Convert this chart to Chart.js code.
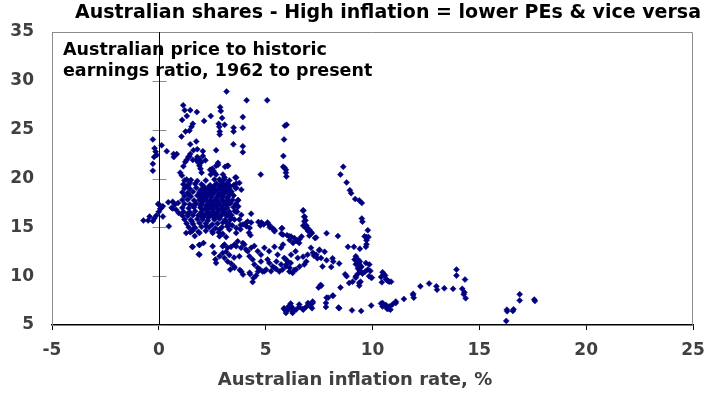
<!DOCTYPE html>
<html>
<head>
<meta charset="utf-8">
<title>Australian shares - PE vs inflation</title>
<script src="https://cdn.jsdelivr.net/npm/chart.js"></script>
<style>
  html, body { margin: 0; padding: 0; background: #fff; }
  #wrap { width: 716px; height: 393px; }
</style>
</head>
<body>
<div id="wrap"><canvas id="peChart" width="716" height="393"></canvas></div>
<script>
const chartTitle = "Australian shares - High inflation = lower PEs & vice versa";
const noteLines = ["Australian price to historic", "earnings ratio, 1962 to present"];
const xAxisTitle = "Australian inflation rate, %";
const xTicks = [-5, 0, 5, 10, 15, 20, 25];
const yTicks = [5, 10, 15, 20, 25, 30, 35];

// [inflation %, PE] pairs, grouped by area of the scatter
const highPE = [
  [3.17,28.9],[4.11,28.0],[5.07,28.0],[1.14,27.5],[1.21,27.0],[1.47,27.0],[1.78,26.8],[2.87,27.3],[2.9,26.9],
  [2.43,26.4],[2.96,26.2],[3.93,26.3],[1.09,26.0],[1.31,26.4],[2.12,25.9],[1.59,25.6],[1.53,25.3],[1.43,24.9],
  [1.25,24.8],[1.06,24.3],[2.8,25.6],[2.83,25.3],[2.85,24.8],[2.85,24.5],[3.08,25.5],[3.5,25.2],[3.5,24.8],
  [3.93,25.2],[5.98,25.5],[5.9,25.4],[5.86,24.0],[5.83,22.3],[5.82,21.2],[5.88,21.1],[5.95,20.9],[5.95,20.6],
  [5.97,20.2],[8.63,21.2],[8.5,20.4],[8.79,19.6],[8.94,18.8],[9.0,18.5],[9.19,17.9],[9.38,17.76],[9.5,17.5],
  [4.77,20.4],[3.58,20.1],[3.62,19.5],[-0.28,24.0],[-0.2,23.1],[-0.15,22.75],[-0.1,22.4],[-0.22,22.2],
  [0.13,23.4],[0.37,22.8],[0.69,22.5],[0.84,22.5],[0.7,22.2],[-0.28,21.5],[-0.28,20.8],[1.75,23.8],[1.47,23.5],
  [2.68,22.9],[3.49,23.5],[3.93,23.3],[3.93,22.7],[1.62,22.9],[1.8,23.0],[1.47,22.5],[1.38,22.2],[1.3,21.9],
  [1.24,21.7],[1.15,21.25],[1.0,20.6],[1.08,20.3],[1.8,22.2],[1.75,21.9],[1.9,22.0],[1.85,21.6],[1.9,21.3],
  [1.95,21.0],[2.0,20.6],[2.5,21.0],[2.55,20.8],[2.6,20.6],[2.68,21.3],[2.77,21.4],[3.1,21.2],[3.0,20.4],
  [3.05,19.9],[3.0,19.4],[1.3,19.9],[1.45,19.6],[1.3,19.2],[2.06,22.8],[2.06,22.3],[2.0,21.7],[1.59,21.9],
  [1.43,22.25],[2.77,21.6],[3.24,21.3],[2.52,20.8],[2.68,20.4],[2.84,19.9],[3.08,20.1],[3.62,20.1],[3.77,19.55],
  [3.62,19.06],[3.86,18.86],[2.4,20.9],[2.43,20.4],[3.21,21.3],[2.18,21.86],[3.18,19.5],[3.34,19.2]
];

const nearZero = [
  [0,17.35],[0.07,16.9],[0,16.6],[-0.12,16.2],[0.19,16.1],[-0.22,15.9],[-0.28,15.65],[-0.5,15.7],[-0.72,15.7],
  [-0.43,16.1],[0.09,16.94],[-0.03,17.4],[0.19,17.15],[0.47,15.1],[0.44,17.56],[0.65,17.63],[0.75,17.35],
  [0.65,16.94],[0.81,16.8],[0.93,16.47],[0.6,17.0],[0.9,17.5]
];

const coreCluster = [
  [1.2,19.8],[1.5,19.85],[1.8,19.75],[2.2,19.8],[2.6,19.9],[2.9,19.7],[3.3,19.8],
  [1.15,19.4],[1.4,19.35],[1.7,19.45],[2.0,19.4],[2.4,19.3],[2.7,19.45],[3.0,19.35],[3.25,19.4],[3.5,19.3],
  [1.2,19.0],[1.45,18.95],[1.75,19.05],[2.05,18.9],[2.3,19.0],[2.55,19.05],[2.8,18.95],[3.05,19.0],[3.3,18.9],[3.6,19.0],
  [1.1,18.6],[1.35,18.55],[1.6,18.65],[1.9,18.6],[2.15,18.5],[2.4,18.6],[2.65,18.7],[2.9,18.55],[3.15,18.6],[3.4,18.65],
  [1.2,18.2],[1.5,18.15],[1.8,18.25],[2.0,18.1],[2.25,18.2],[2.5,18.3],[2.75,18.15],[3.0,18.2],[3.25,18.1],[3.5,18.25],
  [1.1,17.8],[1.35,17.85],[1.65,17.75],[1.9,17.8],[2.15,17.9],[2.4,17.75],[2.7,17.8],[2.95,17.85],[3.2,17.7],[3.45,17.8],[3.7,17.75],
  [1.2,17.4],[1.45,17.35],[1.75,17.45],[2.0,17.4],[2.3,17.3],[2.55,17.45],[2.8,17.4],[3.1,17.35],[3.35,17.45],[3.6,17.4],
  [1.1,17.0],[1.4,16.95],[1.65,17.05],[1.95,17.0],[2.2,16.9],[2.45,17.0],[2.7,17.1],[2.95,16.95],[3.2,17.0],[3.5,17.05],
  [1.15,16.6],[1.45,16.55],[1.7,16.65],[2.0,16.6],[2.3,16.5],[2.55,16.6],[2.8,16.7],[3.05,16.55],[3.3,16.6],[3.55,16.65],
  [1.1,16.2],[1.35,16.15],[1.6,16.25],[1.85,16.2],[2.1,16.1],[2.4,16.2],[2.65,16.3],[2.9,16.15],[3.15,16.2],[3.4,16.25],
  [1.2,15.8],[1.5,15.75],[1.8,15.85],[2.05,15.8],[2.3,15.7],[2.6,15.8],[2.85,15.9],[3.1,15.75],[3.35,15.8],
  [1.3,15.4],[1.6,15.35],[1.9,15.45],[2.2,15.4],[2.5,15.3],[2.75,15.4],[3.0,15.5],[3.3,15.35],
  [1.4,15.0],[1.7,14.95],[2.0,15.05],[2.35,15.0],[2.65,14.9],[2.95,15.0],[3.2,15.1],
  [1.55,14.6],[1.85,14.55],[2.2,14.65],[2.5,14.6],[2.8,14.5],
  [3.71,17.8],[3.71,17.15],[3.62,16.6],[3.86,16.27],[3.77,15.8],[4.08,15.45],[3.83,15.25],[3.69,17.1],[3.66,16.6],
  [2.1,19.2],[2.35,19.15],[2.6,19.25],[2.85,19.2],[3.1,19.15],
  [1.95,18.8],[2.2,18.8],[2.45,18.85],[2.7,18.8],[2.95,18.8],[3.2,18.85],
  [2.05,18.4],[2.3,18.4],[2.55,18.45],[2.8,18.4],[3.05,18.45],[3.3,18.4],
  [1.95,18.0],[2.2,18.0],[2.45,18.05],[2.7,18.0],[2.95,18.05],[3.2,18.0],
  [2.05,17.6],[2.3,17.6],[2.55,17.65],[2.8,17.6],[3.05,17.6],[3.3,17.65],
  [1.95,17.2],[2.2,17.2],[2.45,17.25],[2.7,17.2],[2.95,17.2],[3.2,17.25],
  [2.05,16.8],[2.3,16.8],[2.55,16.85],[2.8,16.8],[3.05,16.8],
  [1.95,16.4],[2.2,16.4],[2.45,16.45],[2.7,16.4],[2.95,16.4],
  [2.05,16.0],[2.3,16.0],[2.55,16.05],[2.8,16.0],
  [1.4,18.4],[1.6,17.2],[1.35,16.4],[1.55,15.6]
];

const midCluster = [
  [1.28,14.43],[1.59,14.77],[1.9,14.43],[2.21,15.1],[2.52,14.43],[2.84,14.77],[3.3,14.77],[3.62,14.43],
  [1.59,13.0],[1.87,12.24],[1.9,13.2],[2.09,13.4],[2.52,13.06],[2.59,12.38],[2.65,11.7],[2.68,11.36],
  [2.84,12.03],[2.99,12.38],[3.15,12.5],[3.3,12.17],[3.52,11.9],[3.34,10.67],[3.52,11.0],[3.86,10.47],
  [2.99,13.06],[3.62,13.06],[3.93,13.4],[4.08,12.72],[4.24,12.03],[4.39,11.7],[3.77,12.03],
  [1.47,14.5],[1.68,14.1],[2.84,14.08],[2.99,14.35],[3.15,14.0],[1.9,13.2],[1.56,13.0],[1.9,12.2],
  [4.32,16.4],[6.75,16.7],[6.81,16.1],[6.81,15.6],[6.9,15.2],[6.96,14.9],[7.31,13.9],[7.15,14.4],[6.68,14.05],[6.59,13.8],
  [3.07,16.6],[3.22,16.2],[3.38,15.96],[3.54,15.8],[3.13,15.6],[3.26,15.3],[3.44,15.2],[3.63,14.94],[3.82,14.8],
  [3.94,15.3],[4.1,15.1],[4.25,14.94],[4.32,15.5],[4.16,15.6],[4.22,14.45],[4.29,14.2],[4.66,15.55],[4.75,15.2],
  [4.91,15.3],[5.09,15.5],[5.19,15.0],[5.35,14.8],[5.41,14.6],[5.75,14.9],[5.81,14.25],[6.0,14.2],[6.19,14.05],
  [6.34,13.9],[6.12,13.7],[6.28,13.4],[6.43,13.6],[4.8,15.5],[5.17,15.25],[5.33,14.9],[5.42,14.7],[5.77,14.9],
  [5.73,14.35],[6.11,14.08],[6.48,13.67],[6.57,13.4],
  [3.07,13.23],[3.22,12.9],[3.38,13.0],[3.54,13.23],[3.69,13.57],[3.85,12.9],[4.0,13.23],[4.16,12.55],[4.32,12.9],
  [4.47,13.1],[4.63,12.55],[4.78,12.2],[4.94,12.9],[5.16,12.55],[5.41,13.0],[5.56,12.2],[5.72,12.9],[5.81,13.23],
  [5.87,11.87],[6.03,11.5],[6.19,12.2],[6.4,12.55],[6.5,11.87],[6.75,12.0],[6.96,12.2],[7.21,12.4],[7.37,12.2],
  [7.59,11.87],[7.52,12.7],[7.12,12.9],[6.9,11.5],[6.81,11.2],[6.59,10.98],[6.34,10.64],[6.12,10.85],[5.97,11.2],
  [5.72,11.2],[5.5,11.5],[5.41,10.85],[5.25,10.5],[4.94,10.5],[4.63,10.85],[4.47,11.2],[4.25,10.36],[3.94,10.16],
  [3.79,10.64],[3.54,10.85],[3.38,11.3],[3.22,11.5],[3.07,11.87],[4.78,11.5],[5.09,11.7],
  [5.17,11.35],[5.33,11.0],[5.49,10.74],[5.64,10.47],[5.79,10.67],[5.95,11.0],[6.11,10.47],[6.26,10.33],[6.42,10.67],
  [6.17,11.35],[5.95,11.7],[4.27,10.2],[4.43,9.8],[4.39,9.4],[4.55,10.06],[4.64,10.47],[4.71,10.74],[4.86,10.47],[5.02,10.67],
  [6.76,16.74],[6.82,16.06],[6.86,15.72],[6.76,15.17],[6.89,14.9],[6.98,14.63],[7.04,14.15],[7.14,14.36],[7.36,13.95],
  [7.04,14.76],[7.14,14.49],[7.85,14.4],[8.38,14.1],
  [7.51,12.65],[7.76,12.5],[7.26,12.1],[7.42,11.83],[7.85,11.63],[8.13,11.83],[8.16,11.5],[8.44,11.29],[7.66,11.0],[8.07,10.94]
];

const highInflation = [
  [9.5,15.9],[9.53,15.58],[9.78,14.7],[9.63,14.08],[9.72,14.0],[9.81,14.0],[9.72,13.67],[9.72,13.26],[9.69,13.0],
  [8.85,13.0],[9.13,13.0],[9.41,12.8],
  [9.16,11.7],[9.32,11.7],[9.41,11.5],[9.22,11.22],[9.38,11.22],[9.47,10.94],[9.32,10.8],[9.41,10.54],[9.32,10.26],
  [9.53,10.26],[9.66,10.47],[9.78,10.67],[9.94,9.85],[9.22,9.85],[9.07,9.44],[8.91,9.3],[9.44,9.44],[9.38,9.03],
  [8.72,10.19],[8.79,10.0],[8.5,8.83],[9.22,12.03],[9.29,11.35],[9.47,11.0],[9.38,10.67],[9.53,10.33],[9.22,10.0],
  [9.38,9.3],[9.69,11.35],[9.84,10.0],[9.85,11.2],[9.9,10.54],[9.97,9.85],
  [10.47,10.4],[10.59,10.06],[10.4,9.92],[10.65,9.65],[10.44,9.37],[10.78,9.44],[10.53,10.2],[10.63,9.72],[10.87,9.44],[10.72,9.5],
  [7.6,9.03],[7.48,8.83],[7.57,9.1],[8.16,8.0],[7.85,7.8],[7.82,6.85],[7.2,7.4],[7.17,6.72],[8.44,6.72],[9.04,6.5],
  [9.47,6.44],[9.94,6.99],[7.92,7.8],[8.13,8.0],[8.41,6.78],[7.82,7.26],
  [5.86,6.65],[5.95,6.45],[6.07,6.9],[6.17,7.2],[5.95,6.24],[6.26,6.37],[5.86,6.72],[6.07,6.6],[6.2,6.9],[6.3,6.6],
  [6.42,6.57],[6.57,6.85],[6.26,6.24],[6.11,6.9],[6.57,7.1],[6.76,6.57],[6.98,7.26],[7.1,6.9],[7.2,7.26],[6.73,6.65],
  [6.89,6.85],[7.04,7.05],
  [10.4,7.2],[10.47,6.9],[10.63,7.06],[10.78,6.9],[10.93,7.1],[11.09,7.26],[10.69,6.65],[10.84,6.57],[10.53,7.06],
  [10.65,6.85],[10.78,6.65],[11.09,7.4],[10.47,7.26],[10.63,6.9],
  [11.47,7.67],[11.9,8.08],[11.93,7.8],[11.9,8.2],[12.24,8.96],[12.65,9.24],[12.99,8.96],[13.02,8.62],[13.36,8.76],
  [13.77,8.7],[13.93,10.67],[13.93,10.06],[14.33,9.65],[14.2,8.7],[14.3,8.35],[14.27,8.14],[14.36,7.74],
  [16.29,6.57],[16.26,5.42],[16.57,6.44],[16.89,8.14],[16.89,7.52],[17.57,7.6],[17.6,7.46],[16.3,6.4],[16.6,6.6]
];

const allPoints = [...highPE, ...nearZero, ...coreCluster, ...midCluster, ...highInflation]
  .map(([x, y]) => ({ x: x, y: y }));

// frame, the y axis drawn through x = 0, and the text
const decorations = {
  id: "decorations",
  beforeDatasetsDraw(chart) {
    const { ctx, chartArea: a, scales: { x, y } } = chart;
    ctx.save();
    // note inside the plot
    ctx.fillStyle = "#000";
    ctx.font = "bold 17.5px 'DejaVu Sans'";
    ctx.textAlign = "left";
    ctx.textBaseline = "alphabetic";
    ctx.fillText(noteLines[0], 63, 55);
    ctx.fillText(noteLines[1], 63, 76);
    // grey frame top/right
    ctx.strokeStyle = "#8c8c8c";
    ctx.lineWidth = 1;
    ctx.beginPath();
    ctx.moveTo(a.left, a.top + 0.5);
    ctx.lineTo(a.right - 0.5, a.top + 0.5);
    ctx.lineTo(a.right - 0.5, a.bottom);
    ctx.stroke();
    // y axis crossing at zero
    const x0 = Math.round(x.getPixelForValue(0)) + 0.5;
    yTicks.forEach(v => {
      const py = Math.round(y.getPixelForValue(v)) + 0.5;
      ctx.beginPath();
      ctx.moveTo(x0 - 7, py);
      ctx.lineTo(x0 + 7, py);
      ctx.stroke();
    });
    ctx.strokeStyle = "#000";
    ctx.beginPath();
    ctx.moveTo(x0, a.top);
    ctx.lineTo(x0, a.bottom);
    ctx.stroke();
    ctx.restore();
  },
  afterDraw(chart) {
    const { ctx } = chart;
    ctx.save();
    ctx.font = "bold 19px 'DejaVu Sans'";
    ctx.fillStyle = "#000";
    ctx.textAlign = "center";
    ctx.textBaseline = "alphabetic";
    ctx.fillText(chartTitle, 388, 18);
    ctx.font = "bold 18px 'DejaVu Sans'";
    ctx.fillStyle = "#404040";
    ctx.fillText(xAxisTitle, 355, 385);
    ctx.restore();
  }
};

new Chart(document.getElementById("peChart"), {
  type: "scatter",
  data: {
    datasets: [{
      label: "PE vs inflation",
      data: allPoints,
      pointStyle: "rectRot",
      pointRadius: 3,
      pointBorderWidth: 0.5,
      backgroundColor: "#000080",
      borderColor: "#000080"
    }]
  },
  options: {
    responsive: false,
    animation: false,
    devicePixelRatio: 1,
    layout: { padding: { top: 32, right: 23, left: 0, bottom: 0 } },
    plugins: {
      legend: { display: false },
      tooltip: { enabled: false },
      title: { display: false }
    },
    scales: {
      x: {
        type: "linear",
        min: -5,
        max: 25,
        afterBuildTicks: s => { s.ticks = xTicks.map(v => ({ value: v })); },
        afterFit: s => { s.height = 68; },
        grid: { drawOnChartArea: false, drawTicks: true, tickLength: 5, color: "#000" },
        border: { display: true, color: "#000", width: 1.5 },
        ticks: {
          color: "#404040",
          font: { family: "DejaVu Sans", weight: "bold", size: 17 },
          padding: 10,
          maxRotation: 0
        }
      },
      y: {
        type: "linear",
        min: 5,
        max: 35,
        afterBuildTicks: s => { s.ticks = yTicks.map(v => ({ value: v })); },
        afterFit: s => { s.width = 52; },
        grid: { drawOnChartArea: false, drawTicks: false },
        border: { display: true, color: "#8c8c8c", width: 1 },
        ticks: {
          color: "#404040",
          font: { family: "DejaVu Sans", weight: "bold", size: 17 },
          padding: 18
        }
      }
    }
  },
  plugins: [decorations]
});
</script>
</body>
</html>
